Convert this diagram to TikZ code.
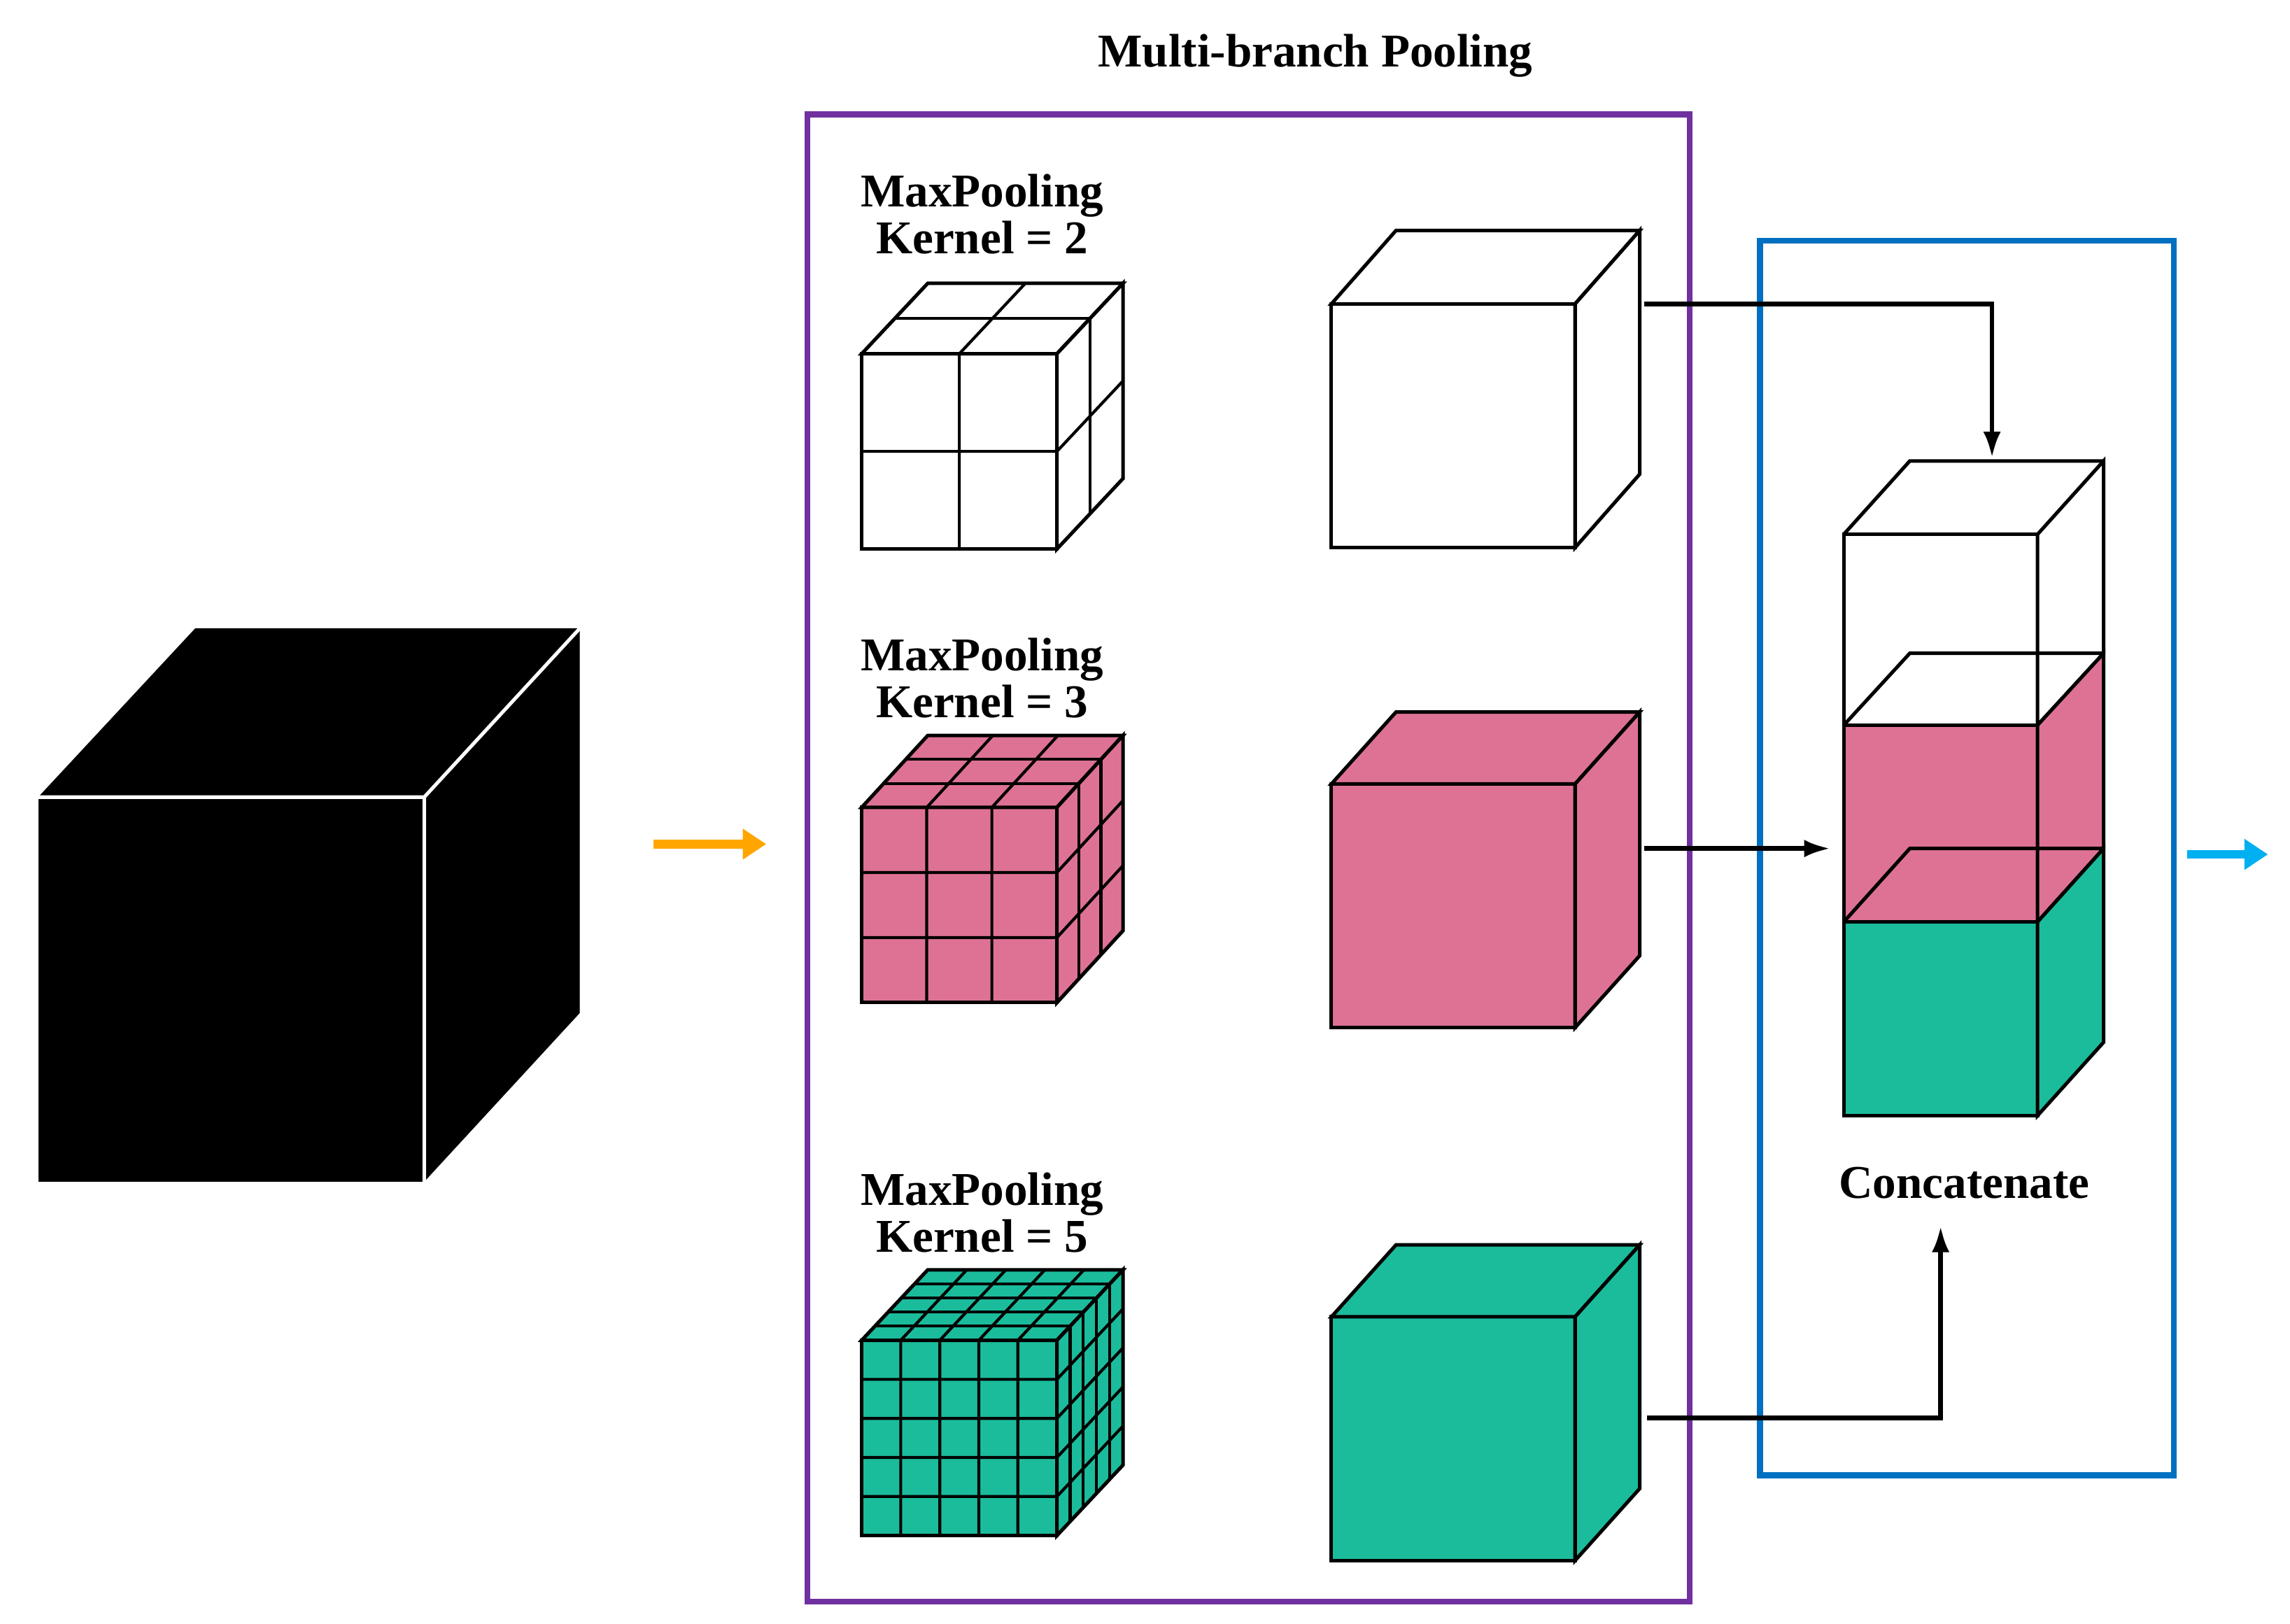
\documentclass[tikz,border=0pt]{standalone}
\usetikzlibrary{arrows.meta}
\usepackage{fontspec}
\setmainfont{Liberation Serif}
\begin{document}
\definecolor{pk}{HTML}{DE7295}
\definecolor{tl}{HTML}{1BBC9C}
\definecolor{pu}{HTML}{7030A0}
\definecolor{bl}{HTML}{0070C0}
\definecolor{og}{HTML}{FFA500}
\definecolor{cy}{HTML}{00B0F0}
\newcommand\gcube[6]{% x y s dx dy n, fill via \cfill
 \filldraw[fill=\cfill,line width=1.2pt] (#1,#2) rectangle ++(#3,#3);
 \filldraw[fill=\cfill,line width=1.2pt] (#1,#2) -- ++(#4,#5) -- ++(#3,0) -- ++(-#4,-#5) -- cycle;
 \filldraw[fill=\cfill,line width=1.2pt] (#1+#3,#2) -- ++(#4,#5) -- ++(0,#3) -- ++(-#4,-#5) -- cycle;
 \ifnum#6>1
 \foreach \i in {1,...,\numexpr#6-1\relax}{
  \pgfmathsetmacro\t{\i*#3/#6}\pgfmathsetmacro\f{\i/#6}
  \draw[line width=1pt] (#1+\t,#2+#3) -- (#1+\t,#2) -- ++(#4,#5);
  \draw[line width=1pt] (#1,#2+\t) -- (#1+#3,#2+\t) -- ++(#4,#5);
  \draw[line width=1pt] (#1+\f*#4,#2+\f*#5) -- ++(#3,0) -- ++(0,#3);
 }\fi}
\begin{tikzpicture}[x=0.5pt,y=-0.5pt,
  lbl/.style={font=\bfseries\fontsize{16}{19}\selectfont,align=center},
  conn/.style={line width=1.6pt,-{Latex[length=9pt,width=6pt]}}]
\useasboundingbox (0,0) rectangle (1560,1106);
% black cube
\fill (26,543) rectangle (289,805);
\fill (26,543) -- (133,428) -- (395,428) -- (395,690) -- (289,805) -- (289,543) -- cycle;
\draw[white,line width=1.2pt] (26,543) -- (289,543) -- (289,805) (289,543) -- (395,428);
\draw[og,line width=3pt,-{Triangle[length=8pt,width=10pt]}] (445,575) -- (522,575);
% purple box
\node[draw=pu,line width=2pt,minimum width=300.5pt,minimum height=506.5pt,anchor=north west,inner sep=0] (pool) at (548,76) {};
\node[lbl] (title) at (896,38) {Multi-branch Pooling};
\node[lbl] (l1) at (669,146) {MaxPooling\\[-3pt]Kernel = 2};
\node[lbl] (l2) at (669,462) {MaxPooling\\[-3pt]Kernel = 3};
\node[lbl] (l3) at (669,826) {MaxPooling\\[-3pt]Kernel = 5};
\def\cfill{white}\gcube{587}{241}{133}{45}{-48}{2}
\def\cfill{pk}\gcube{587}{550}{133}{45}{-49}{3}
\def\cfill{tl}\gcube{587}{913}{133}{45}{-48}{5}
\def\cfill{white}\gcube{907}{207}{166}{44}{-50}{1}
\def\cfill{pk}\gcube{907}{534}{166}{44}{-49}{1}
\def\cfill{tl}\gcube{907}{897}{166}{44}{-49}{1}
% blue box
\node[draw=bl,line width=2pt,minimum width=141pt,minimum height=420.5pt,anchor=north west,inner sep=0] (cat) at (1197,162) {};
% stack
\begin{scope}[line width=1.2pt]
\filldraw[fill=white] (1256,364) rectangle (1388,494);
\filldraw[fill=white] (1388,364) -- (1433,314) -- (1433,445) -- (1388,494) -- cycle;
\filldraw[fill=pk] (1256,494) rectangle (1388,628);
\filldraw[fill=pk] (1388,494) -- (1433,445) -- (1433,578) -- (1388,628) -- cycle;
\filldraw[fill=tl] (1256,628) rectangle (1388,760);
\filldraw[fill=tl] (1388,628) -- (1433,578) -- (1433,710) -- (1388,760) -- cycle;
\draw (1256,364) -- (1301,314) -- (1433,314);
\draw (1256,494) -- (1301,445) -- (1433,445);
\draw (1256,628) -- (1301,578) -- (1433,578);
\end{scope}
\coordinate (a1) at (1120,207); \coordinate (t1) at (1357,312);
\coordinate (a2) at (1120,578); \coordinate (t2) at (1247,578);
\coordinate (a3) at (1122,966); \coordinate (t3) at (1322,835);
\draw[conn] (a1) -| (t1);
\draw[conn] (a2) -- (t2);
\draw[conn] (a3) -| (t3);
\node[lbl] (cl) at (1338,806) {Concatenate};
\draw[cy,line width=3pt,-{Triangle[length=8pt,width=10pt]}] (1490,582) -- (1545,582);
\end{tikzpicture}
\end{document}
